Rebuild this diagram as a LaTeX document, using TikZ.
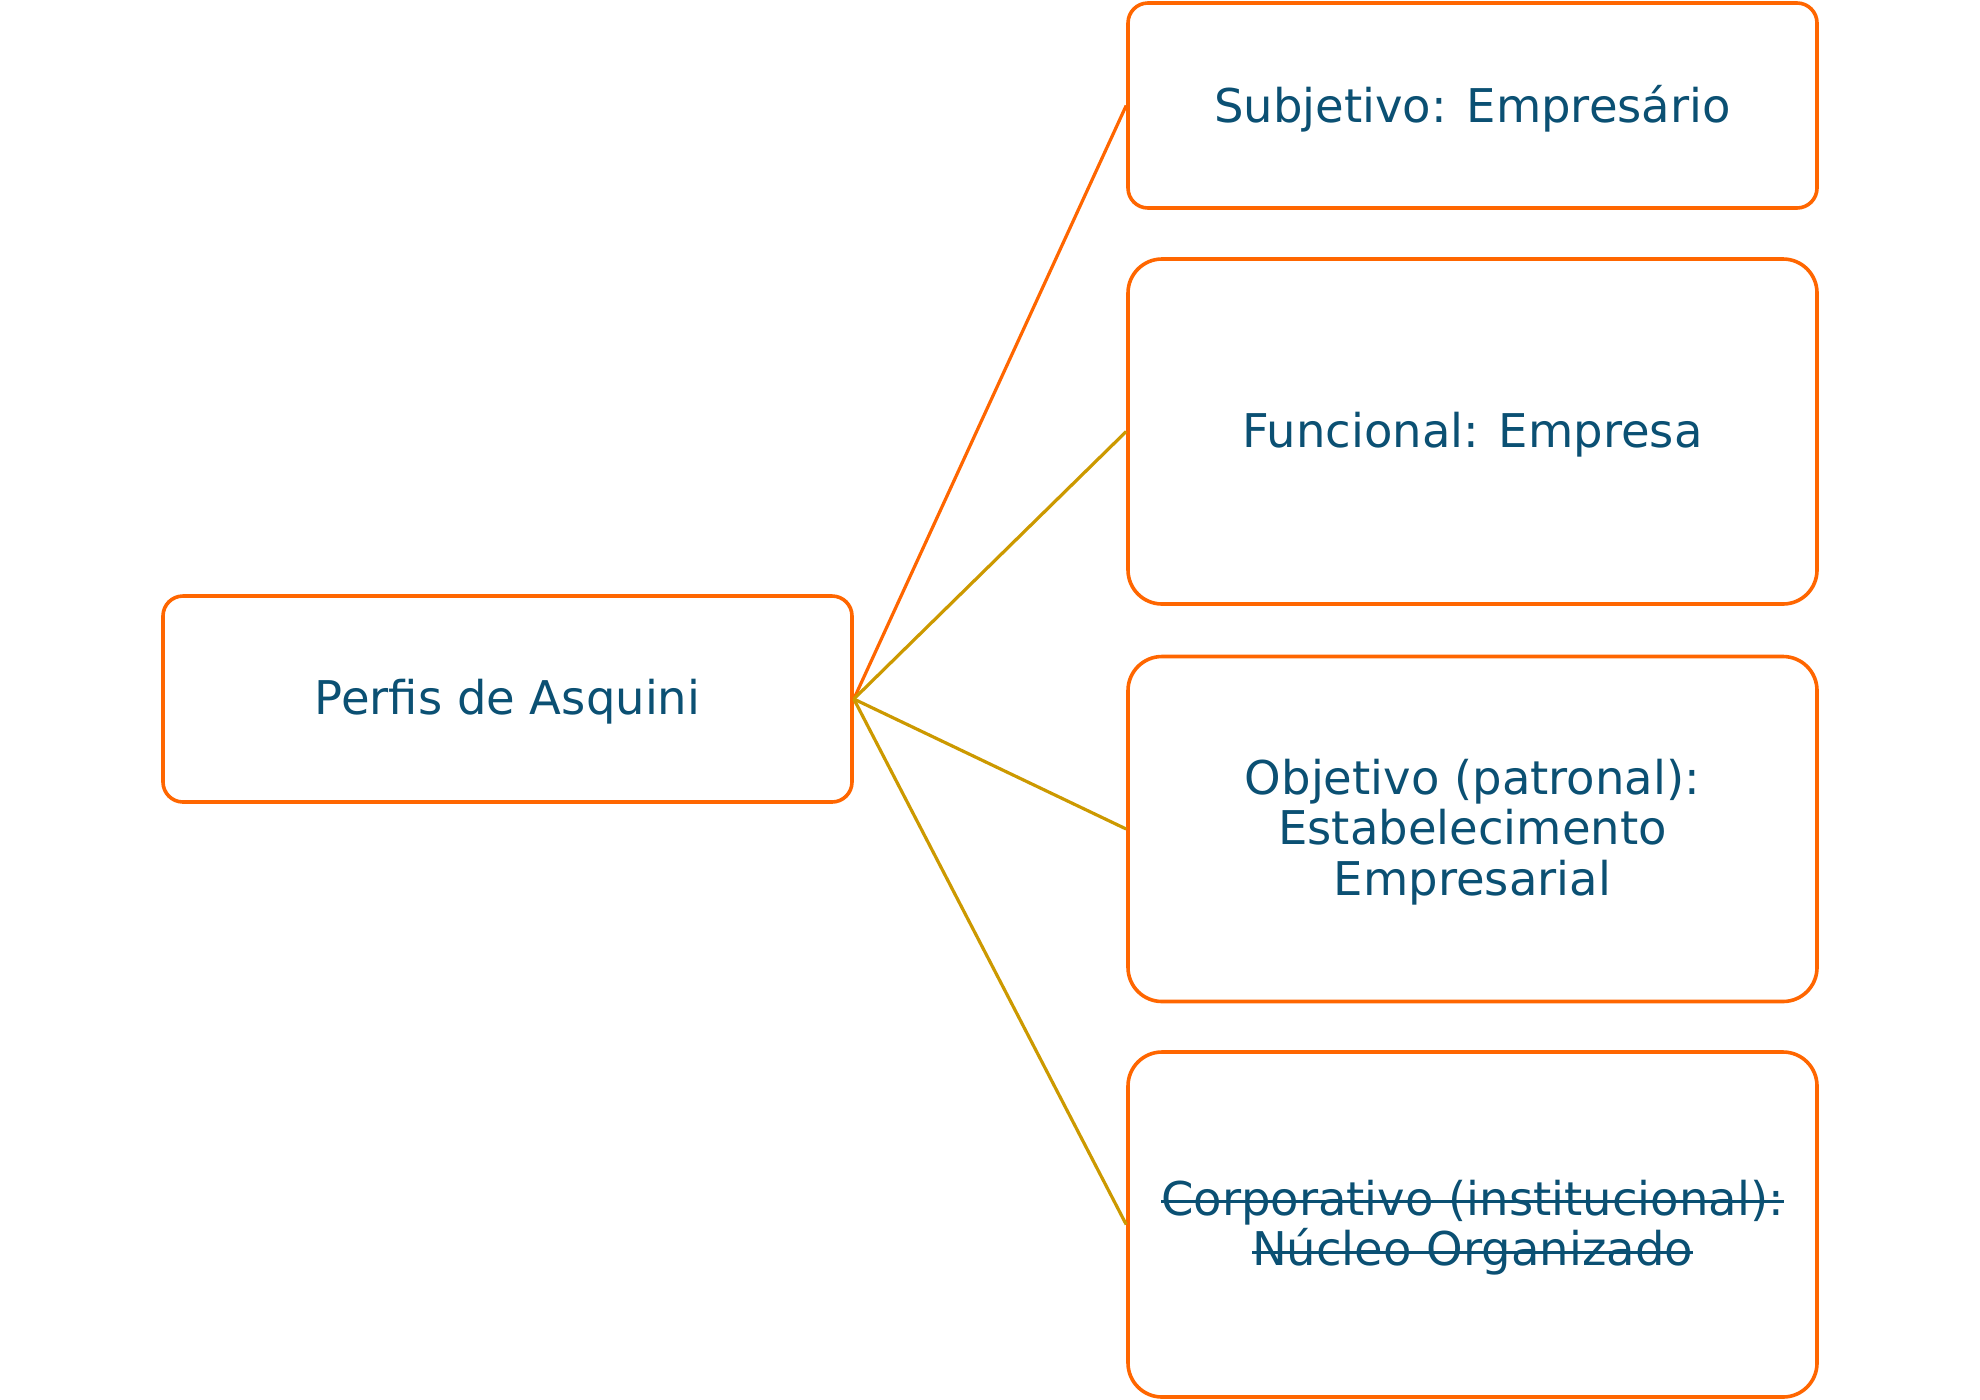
\documentclass[tikz,border=0pt]{standalone}
\usepackage{fontspec}
\setmainfont{DejaVu Sans}
\newcommand\mystrike[1]{\sbox0{#1}\rlap{\usebox0}\rule[0.26em]{\wd0}{1.5pt}}
\newcommand\lowr[1]{\raisebox{-1.5pt}[\height][\depth]{#1}}
\definecolor{boxorange}{RGB}{255,102,0}
\definecolor{linegold}{RGB}{204,153,0}
\definecolor{txtblue}{RGB}{11,80,115}
\begin{document}
\begin{tikzpicture}[x=0.5pt,y=-0.5pt,
  card/.style={draw=boxorange, line width=1.8pt, fill=white, text=txtblue,
    minimum width=344.5pt, align=center, inner sep=0pt,
    font=\fontsize{23.25}{25.25}\selectfont},
  smallcard/.style={card, rounded corners=10pt, minimum height=102.5pt},
  bigcard/.style={card, rounded corners=17pt, minimum height=172.5pt},
  link/.style={line width=1.6pt}]
\useasboundingbox (0,0) rectangle (1980,1399);
\node[smallcard, minimum height=103pt] (root) at (507.5,699) {\lowr{Perfis de Asquini}};
\node[smallcard] (s) at (1472.5,105.5) {\lowr{Subjetivo: Empresário}};
\node[bigcard] (f) at (1472.5,431.5) {\lowr{Funcional: Empresa}};
\node[bigcard] (o) at (1472.5,829) {\lowr{Objetivo (patronal):}\\\lowr{Estabelecimento}\\\lowr{Empresarial}};
\node[bigcard] (c) at (1472.5,1224.5) {\lowr{\mystrike{Corporativo (institucional):}}\\\lowr{\mystrike{Núcleo Organizado}}};
\draw[link, boxorange] (root.east) -- (s.west);
\draw[link, linegold] (root.east) -- (f.west);
\draw[link, linegold] (root.east) -- (o.west);
\draw[link, linegold] (root.east) -- (c.west);
\end{tikzpicture}
\end{document}
